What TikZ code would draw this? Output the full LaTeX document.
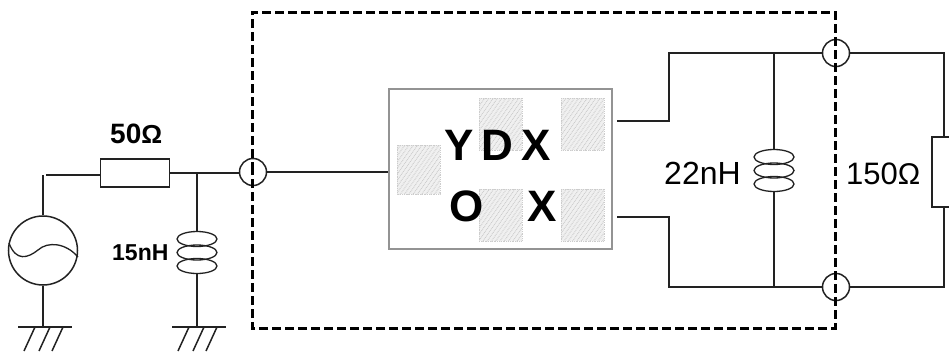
\documentclass[tikz,border=0pt]{standalone}
\usepackage{fontspec}
\setmainfont{Liberation Sans}
\usetikzlibrary{patterns.meta}
\definecolor{wirec}{HTML}{222222}
\tikzset{
  wire/.style={draw=wirec,line width=1.5pt},
  thin wire/.style={draw=wirec,line width=1.2pt},
  frame/.style={draw=black,line width=3pt,dash pattern=on 9pt off 4pt},
  chip/.style={draw=gray!85,line width=2pt,fill=white},
  pad/.style={draw=gray!40,line width=.8pt,densely dotted,
    pattern={Lines[angle=55,distance=3.5pt,line width=1pt]},pattern color=gray!40},
  port/.style={circle,draw=wirec,line width=1.5pt,minimum size=27pt,inner sep=0pt},
  res/.style={rectangle,draw=wirec,line width=1.5pt,fill=white,inner sep=0pt},
  coilbox/.style={rectangle,minimum width=40pt,minimum height=41pt,inner sep=0pt},
  lbl/.style={inner sep=0pt,anchor=base west,text=black}
}
\newcommand{\coilloops}[1]{%
  \foreach \dy in {-13.5,0,13.5}
    \draw[wirec,line width=1.3pt] ([yshift=\dy pt]#1.center) ellipse [x radius=20pt,y radius=7.5pt];
}
\newcommand{\Lpad}[4]{%
  \fill[gray!12] (#1,#2) rectangle (#3,#4);
  \path[pad] (#1,#2) rectangle (#3,#4);
}
\begin{document}
\begin{tikzpicture}[x=1pt,y=-1pt]
\useasboundingbox (0,0) rectangle (949,351);
\fill[white] (0,0) rectangle (949,351);

% chip
\node[chip,minimum width=223pt,minimum height=160pt,inner sep=0pt] (ic) at (500.5,169) {};
\Lpad{397}{145}{440}{194}
\Lpad{479}{98}{522}{150}
\Lpad{561}{98}{604}{150}
\Lpad{479}{189}{522}{241}
\Lpad{561}{189}{604}{241}
\node[lbl,font=\fontsize{44}{44}\selectfont\bfseries] (t1) at (444,160) {Y\kern8pt D\kern8pt X};
\node[lbl,font=\fontsize{44}{44}\selectfont\bfseries] (t2) at (449,221) {O\kern44pt X};

% source
\node[circle,draw=wirec,line width=1.5pt,minimum size=69pt,inner sep=0pt] (src) at (43,250.5) {};
\draw[wirec,line width=1.3pt] (9,243) .. controls (16,262) and (28,258) .. (38,250)
   .. controls (48,241) and (66,243) .. (78,257);

% 50 ohm resistor
\node[res,minimum width=69pt,minimum height=28pt] (r50) at (135,173) {};
\node[lbl,font=\fontsize{28}{28}\selectfont\bfseries] (l50) at (110,143) {50{\fontsize{26}{26}\selectfont Ω}};

% ports
\node[port] (p1) at (253,172) {};
\node[port] (p2) at (836,53) {};
\node[port] (p3) at (836,287) {};

% coils
\node[coilbox] (c1) at (197,252.5) {};
\coilloops{c1}
\node[coilbox] (c2) at (774,170.5) {};
\coilloops{c2}
\node[lbl,font=\fontsize{23}{23}\selectfont\bfseries] (l15) at (112,260) {15nH};
\node[lbl,font=\fontsize{32}{32}\selectfont] (l22) at (664,184) {22nH};
\node[lbl,font=\fontsize{31}{31}\selectfont] (l150) at (846,184) {150{\fontsize{30}{30}\selectfont Ω}};

% coordinates
\coordinate (g1) at (43,327);
\coordinate (g2) at (197,327);
\coordinate (srctop) at (43,175);
\coordinate (stub) at (46,175);
\coordinate (j1) at (197,173);
\coordinate (ict) at (617,121);
\coordinate (icb) at (617,217);
\coordinate (ct) at (669,53);
\coordinate (cb) at (669,287);
\coordinate (jt) at (774,53);
\coordinate (jb) at (774,287);
\coordinate (rt) at (944,53);
\coordinate (rb) at (944,287);
\coordinate (r1) at (944,137);
\coordinate (r2) at (944,207);

% wires
\draw[wire] (src.north) -- (srctop);
\draw[wire] (stub) -- (r50.west |- stub);
\draw[wire] (r50.east) -- (p1.west |- r50.east);
\draw[wire] (j1) -- (c1.north);
\draw[wire] (c1.south) -- (g2);
\draw[wire] (src.south) -- (g1);
\draw[wire] (p1.east) -- (ic.west |- p1.east);
\draw[wire] (ict) -| (ct) -- (p2.west);
\draw[wire] (icb) -| (cb) -- (p3.west);
\draw[thin wire] (jt) -- (c2.north);
\draw[thin wire] (c2.south) -- (jb);
\draw[wire] (p2.east) -- (rt) -- (r1);
\draw[wire] (p3.east) -- (rb) -- (r2);
\draw[wire] (949,137) -- (932,137) -- (932,207) -- (949,207);

% grounds
\foreach \x in {45,199}{
  \draw[wire] (\x-27,327) -- (\x+27,327);
  \foreach \d in {-10,5,18}
    \draw[wire] (\x+\d,327) -- (\x+\d-11,351);
}

% dashed frame
\draw[frame] (252,171) -- (252,12) -- (835,12) -- (835,328) -- (252,328) -- cycle;
\end{tikzpicture}
\end{document}
